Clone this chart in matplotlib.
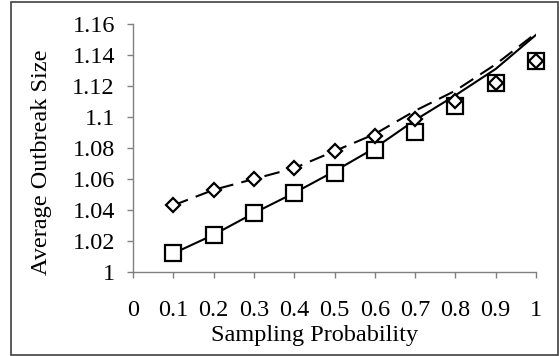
import matplotlib.pyplot as plt
from matplotlib.patches import Rectangle

plt.rcParams['font.family'] = ['Liberation Serif', 'DejaVu Serif']

# sampling probability and measured / model outbreak sizes
prob = [0.1, 0.2, 0.3, 0.4, 0.5, 0.6, 0.7, 0.8, 0.9, 1.0]
sim_squares = [1.012, 1.024, 1.038, 1.051, 1.064, 1.079, 1.090, 1.107, 1.122, 1.136]
sim_diamonds = [1.043, 1.053, 1.060, 1.067, 1.078, 1.088, 1.099, 1.110, 1.122, 1.136]
model_solid = [1.012, 1.024, 1.038, 1.051, 1.065, 1.080, 1.098, 1.114, 1.131, 1.153]
model_dashed = [1.043, 1.053, 1.060, 1.067, 1.078, 1.089, 1.104, 1.117, 1.134, 1.154]

xticks = [0, 0.1, 0.2, 0.3, 0.4, 0.5, 0.6, 0.7, 0.8, 0.9, 1.0]
xlabels = ['0', '0.1', '0.2', '0.3', '0.4', '0.5', '0.6', '0.7', '0.8', '0.9', '1']
yticks = [1, 1.02, 1.04, 1.06, 1.08, 1.1, 1.12, 1.14, 1.16]
ylabels = ['1', '1.02', '1.04', '1.06', '1.08', '1.1', '1.12', '1.14', '1.16']

W, H = 559, 356
fig = plt.figure(figsize=(W / 100, H / 100), dpi=100)
ax = fig.add_axes([133 / W, 1 - 272 / H, (536 - 133) / W, (272 - 24) / H])

ax.plot(prob, model_solid, color='black', lw=1.5, zorder=2)
ax.plot(prob, model_dashed, color='black', lw=1.5, dashes=(7.5, 4), zorder=2)
ax.plot(prob, sim_squares, ls='none', marker='s', ms=11.5, mfc='white',
        mec='black', mew=1.6, zorder=3, clip_on=False)
ax.plot(prob, sim_diamonds, ls='none', marker='D', ms=7.4, mfc='white',
        mec='black', mew=1.6, zorder=4, clip_on=False)

ax.set_xlim(0, 1)
ax.set_ylim(1, 1.16)
ax.set_xticks(xticks)
ax.set_xticklabels(xlabels)
ax.set_yticks(yticks)
ax.set_yticklabels(ylabels)

for s in ['top', 'right']:
    ax.spines[s].set_visible(False)
for s in ['left', 'bottom']:
    ax.spines[s].set_color('#808080')
    ax.spines[s].set_linewidth(1.0)
    ax.spines[s].set_zorder(1)

ax.tick_params(axis='x', direction='out', length=4.5, width=1.0, color='#808080',
               labelsize=17.5, pad=15.5)
ax.tick_params(axis='y', direction='out', length=4.5, width=1.0, color='#808080',
               labelsize=17.5, pad=8.5)

fig.text(315 / W, 1 - 341 / H, 'Sampling Probability', ha='center', va='baseline',
         fontsize=17.5)
fig.text(42 / W, 1 - 162 / H, 'Average Outbreak Size', ha='center', va='center',
         rotation=90, fontsize=17.5)

# outer chart border
fig.patches.append(Rectangle((11 / W, 1.5 / H), (558 - 11) / W, (354 - 1.5) / H,
                             transform=fig.transFigure, fill=False,
                             edgecolor='#404040', lw=1.2))

fig.savefig('out.png', dpi=100)
